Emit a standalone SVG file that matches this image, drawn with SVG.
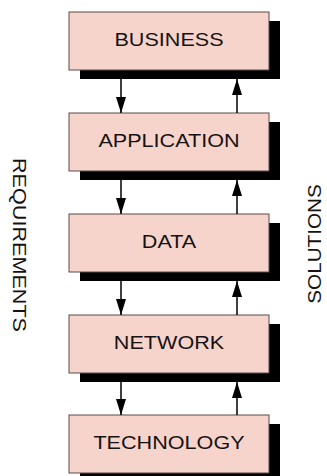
<svg xmlns="http://www.w3.org/2000/svg" width="327" height="476" viewBox="0 0 327 476">
<style>
.box{fill:#f6d4cc;stroke:#5b4b48;stroke-width:1}
.shadow{fill:#000}
.lbl{font-family:"Liberation Sans",Arial,sans-serif;font-size:18px;fill:#161212;text-anchor:middle}
.conn{stroke:#000;stroke-width:1.5;fill:none;marker-end:url(#ah)}
</style>
<defs>
<marker id="ah" markerUnits="userSpaceOnUse" markerWidth="17" markerHeight="10" refX="16" refY="5" orient="auto">
<path d="M0,0 L16,5 L0,10 z" fill="#000"/>
</marker>
</defs>
<rect width="327" height="476" fill="#fff"/>
<g id="business">
<rect class="shadow" x="80" y="21" width="200" height="58"/>
<rect class="box" x="69" y="12" width="200" height="58"/>
<text class="lbl" transform="translate(169,46) scale(1.2,1)">BUSINESS</text>
</g>
<g id="application">
<rect class="shadow" x="80" y="122" width="200" height="58"/>
<rect class="box" x="69" y="113" width="200" height="58"/>
<text class="lbl" transform="translate(169,147) scale(1.2,1)">APPLICATION</text>
</g>
<g id="data">
<rect class="shadow" x="80" y="223" width="200" height="58"/>
<rect class="box" x="69" y="214" width="200" height="58"/>
<text class="lbl" transform="translate(169,248) scale(1.2,1)">DATA</text>
</g>
<g id="network">
<rect class="shadow" x="80" y="324" width="200" height="58"/>
<rect class="box" x="69" y="315" width="200" height="58"/>
<text class="lbl" transform="translate(169,349) scale(1.2,1)">NETWORK</text>
</g>
<g id="technology">
<rect class="shadow" x="80" y="424" width="200" height="58"/>
<rect class="box" x="69" y="415" width="200" height="58"/>
<text class="lbl" transform="translate(169,449) scale(1.2,1)">TECHNOLOGY</text>
</g>
<g id="connectors">
<line class="conn" x1="121" y1="79" x2="121" y2="113"/>
<line class="conn" x1="237" y1="113" x2="237" y2="79"/>
<line class="conn" x1="121" y1="180" x2="121" y2="214"/>
<line class="conn" x1="237" y1="214" x2="237" y2="180"/>
<line class="conn" x1="121" y1="281" x2="121" y2="315"/>
<line class="conn" x1="237" y1="315" x2="237" y2="281"/>
<line class="conn" x1="121" y1="382" x2="121" y2="415"/>
<line class="conn" x1="237" y1="415" x2="237" y2="382"/>
</g>
<g id="side-labels">
<text class="lbl" transform="translate(13,245) rotate(90) scale(1.2,1)">REQUIREMENTS</text>
<text class="lbl" transform="translate(321,244) rotate(-90) scale(1.15,1)">SOLUTIONS</text>
</g>
</svg>
